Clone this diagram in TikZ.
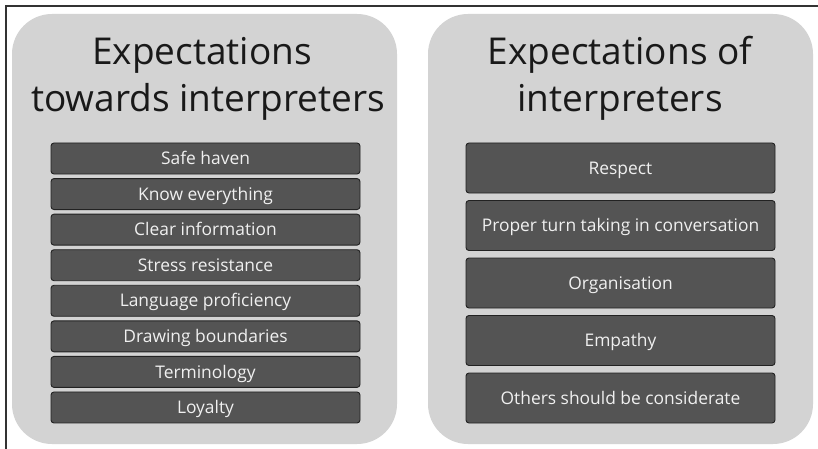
\documentclass[tikz,border=0pt]{standalone}
\usepackage{fontspec}
\setmainfont{Open Sans}
\definecolor{panelgray}{HTML}{D3D3D3}
\definecolor{boxgray}{HTML}{545454}
\definecolor{boxedge}{HTML}{222222}
\definecolor{boxtext}{HTML}{F0F0F0}
\definecolor{framecol}{HTML}{333333}
\begin{document}
\begin{tikzpicture}[x=1pt,y=-1pt,
  panel/.style={fill=panelgray,draw=none,rounded corners=40pt},
  titletext/.style={anchor=base,inner sep=0pt,font=\fontsize{37}{44}\selectfont,text=black!90},
  itembox/.style={draw=boxedge,fill=boxgray,line width=0.9pt,rounded corners=3pt,minimum width=309pt,text=boxtext,font=\fontsize{17.4}{20}\selectfont,inner sep=0pt,text height=12.4pt,text depth=0pt},
  leftitem/.style={itembox,minimum height=31pt},
  rightitem/.style={itembox,minimum height=50pt},
  framestyle/.style={draw=framecol,line width=1.5pt}]
\useasboundingbox (0,0) rectangle (818,449);
\coordinate (fa) at (818,6);
\coordinate (fb) at (6,6);
\coordinate (fc) at (6,449);
\draw[framestyle] (fa) -- (fb) -- (fc);
\path[panel] (12,14) rectangle (397,444);
\path[panel] (428,14) rectangle (813,444);
\node[titletext] (t1a) at (202,65) {Expectations};
\node[titletext] (t1b) at (208,112) {towards interpreters};
\node[titletext] (t2a) at (620,65) {Expectations of};
\node[titletext] (t2b) at (620,112) {interpreters};
\foreach \txt [count=\i from 0] in {Safe haven,Know everything,Clear information,Stress resistance,Language proficiency,Drawing boundaries,Terminology,Loyalty}
  \node[leftitem] (l\i) at (205.5,158.5+\i*35.57) {\txt};
\foreach \txt [count=\i from 0] in {Respect,Proper turn taking in conversation,Organisation,Empathy,Others should be considerate}
  \node[rightitem] (r\i) at (620.5,168+\i*57.5) {\txt};
\end{tikzpicture}
\end{document}
